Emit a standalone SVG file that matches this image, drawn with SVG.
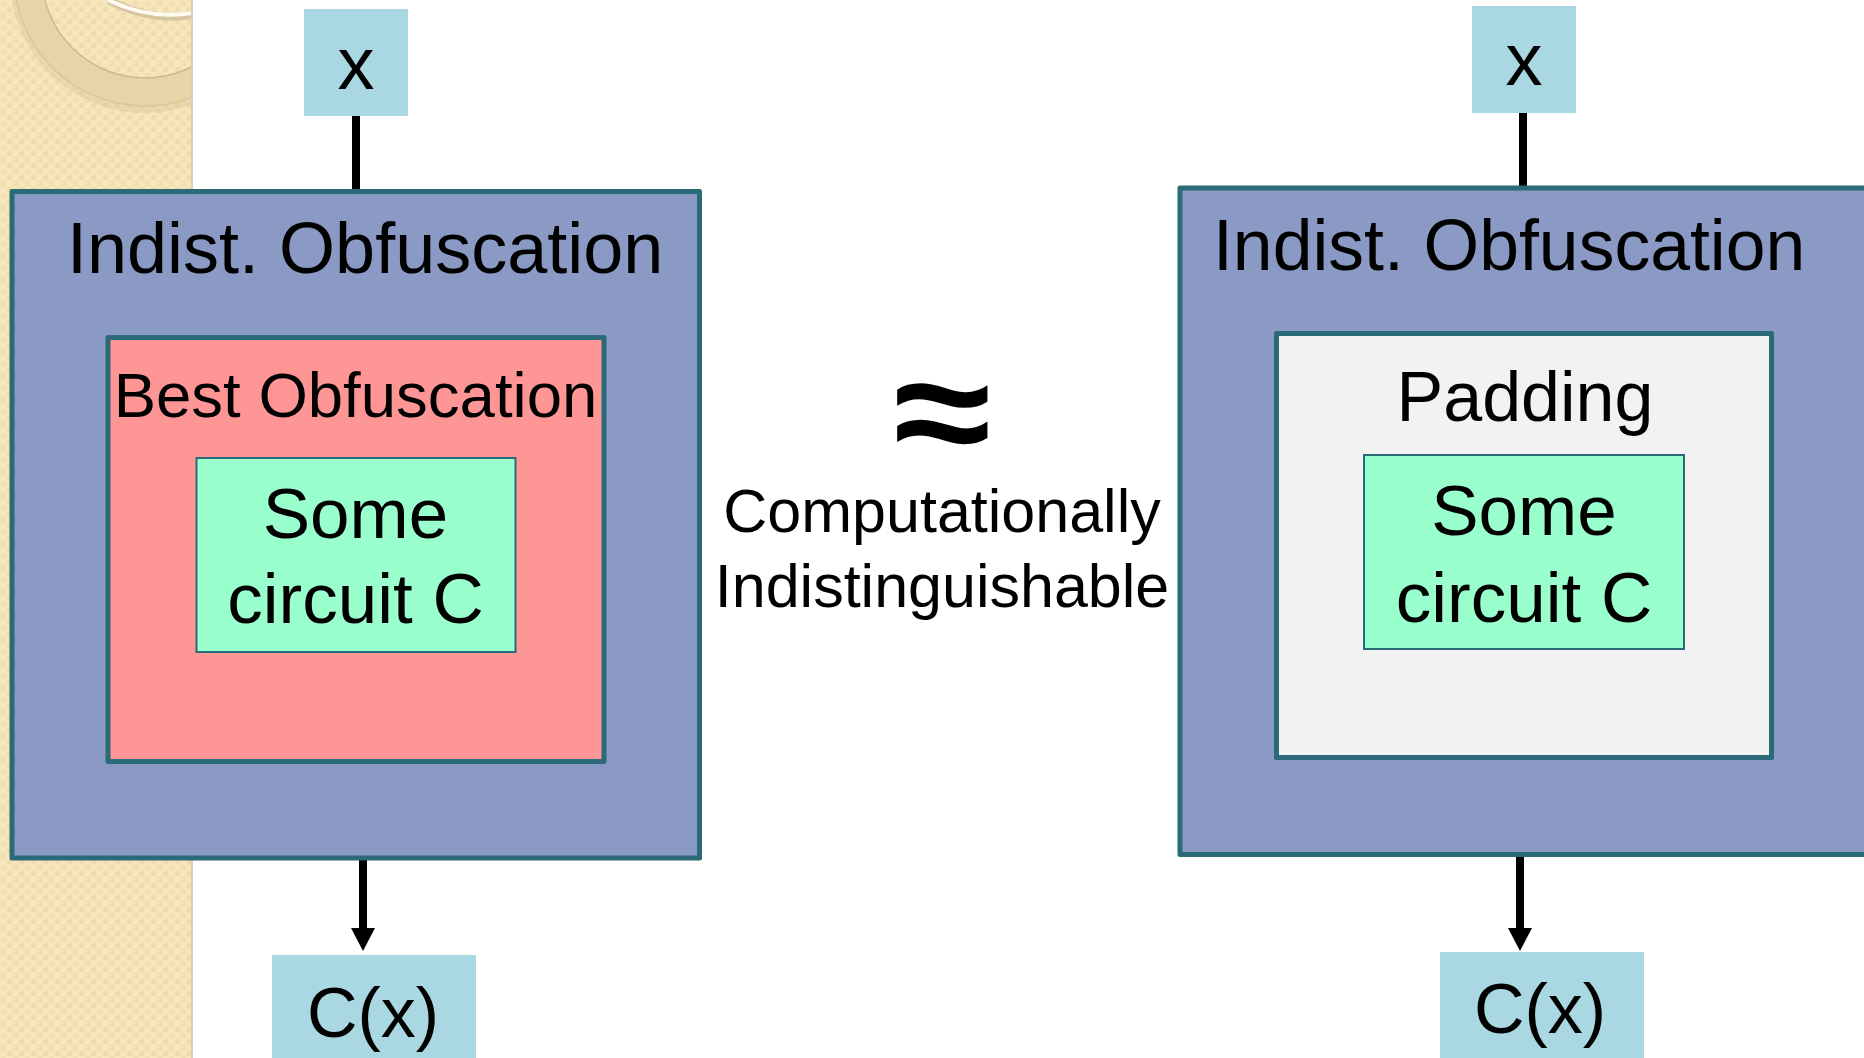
<svg xmlns="http://www.w3.org/2000/svg" width="1864" height="1058" viewBox="0 0 1864 1058">
  <defs>
    <pattern id="chk" x="0" y="0" width="12" height="12" patternUnits="userSpaceOnUse">
      <rect width="12" height="12" fill="#f7e6bc"/>
      <rect x="1" y="1" width="5" height="5" fill="#efdcad"/>
      <rect x="7" y="7" width="5" height="5" fill="#efdcad"/>
      <rect x="2.5" y="2.5" width="2" height="2" fill="#f7e6bc"/>
    </pattern>
    <clipPath id="sideClip"><rect x="0" y="0" width="192" height="1058"/></clipPath>
    <marker id="arr" viewBox="0 0 24 24" markerUnits="userSpaceOnUse" markerWidth="24" markerHeight="24" refX="0" refY="12" orient="auto">
      <path d="M0,0 L23,12 L0,24 z" fill="#000"/>
    </marker>
    <style>
      .t { font-family: "Liberation Sans", Arial, sans-serif; fill: #000; }
      .outer { fill: #8a9ac4; stroke: #2a6a79; stroke-width: 5; stroke-linejoin: round; }
      .mid { stroke: #2a6a79; stroke-width: 5; stroke-linejoin: round; }
      .inner { fill: #99ffcc; stroke: #2a6a79; stroke-width: 2; }
      .io { fill: #a9d8e3; }
      .wire { stroke: #000; stroke-width: 8; fill: none; }
    </style>
  </defs>

  <rect x="0" y="0" width="1864" height="1058" fill="#ffffff"/>

  <!-- decorative side bar -->
  <g id="sidebar">
    <rect x="0" y="0" width="192" height="1058" fill="url(#chk)"/>
    <g clip-path="url(#sideClip)">
      <circle cx="145" cy="-22" r="120" fill="none" stroke="#cdbf98" stroke-width="30" opacity="0.35"/>
      <circle cx="145" cy="-25" r="117" fill="none" stroke="#e6d5a6" stroke-width="28"/>
      <circle cx="145" cy="-25" r="103" fill="none" stroke="#cbbb92" stroke-width="1.5"/>
      <circle cx="145" cy="-25" r="131" fill="none" stroke="#d9c89c" stroke-width="1.5"/>
      <path d="M108 0 Q150 22 192 15" fill="none" stroke="#d6c7a0" stroke-width="8"/>
      <path d="M108 0 Q150 20 192 13" fill="none" stroke="#fffaf0" stroke-width="4"/>
    </g>
    <line x1="192" y1="0" x2="192" y2="1058" stroke="#d9cfb6" stroke-width="2"/>
  </g>

  <!-- connectors -->
  <g id="connectors">
    <line class="wire" x1="356" y1="116" x2="356" y2="190"/>
    <line class="wire" x1="1523" y1="113" x2="1523" y2="186"/>
    <line class="wire" x1="363" y1="860" x2="363" y2="928" marker-end="url(#arr)"/>
    <line class="wire" x1="1520" y1="857" x2="1520" y2="928" marker-end="url(#arr)"/>
  </g>

  <!-- left side -->
  <g id="left-x">
    <rect class="io" x="304" y="9" width="104" height="107"/>
    <text class="t" x="356" y="89" font-size="74" text-anchor="middle">x</text>
  </g>
  <g id="left-io">
    <rect class="outer" x="12" y="191.5" width="687.5" height="666.5"/>
    <text class="t" x="67" y="273" font-size="72">Indist. Obfuscation</text>
  </g>
  <g id="left-best">
    <rect class="mid" x="108" y="337.5" width="496" height="424" fill="#ff9696"/>
    <text class="t" x="355.5" y="417" font-size="63.5" text-anchor="middle">Best Obfuscation</text>
  </g>
  <g id="left-circuit">
    <rect class="inner" x="196.5" y="458" width="319" height="194"/>
    <text class="t" x="355.5" y="538" font-size="71" text-anchor="middle">Some</text>
    <text class="t" x="355.5" y="623" font-size="71" text-anchor="middle">circuit C</text>
  </g>
  <g id="left-cx">
    <rect class="io" x="272" y="955" width="204" height="103"/>
    <text class="t" x="373" y="1037" font-size="70" text-anchor="middle">C(x)</text>
  </g>

  <!-- middle -->
  <g id="middle">
    <text class="t" transform="matrix(1 0 0 0.87 942 465)" x="0" y="0" font-size="178" font-weight="bold" text-anchor="middle">≈</text>
    <text class="t" x="942" y="532" font-size="61" text-anchor="middle">Computationally</text>
    <text class="t" x="942" y="607" font-size="61" text-anchor="middle">Indistinguishable</text>
  </g>

  <!-- right side -->
  <g id="right-x">
    <rect class="io" x="1472" y="6" width="104" height="107"/>
    <text class="t" x="1524" y="85" font-size="74" text-anchor="middle">x</text>
  </g>
  <g id="right-io">
    <rect class="outer" x="1180" y="188" width="700" height="666.5"/>
    <text class="t" x="1213" y="270" font-size="71.5">Indist. Obfuscation</text>
  </g>
  <g id="right-padding">
    <rect class="mid" x="1276.5" y="333.5" width="495" height="424" fill="#f2f2f2"/>
    <text class="t" x="1525" y="421" font-size="70" text-anchor="middle">Padding</text>
  </g>
  <g id="right-circuit">
    <rect class="inner" x="1364" y="455" width="320" height="194"/>
    <text class="t" x="1524" y="535" font-size="71" text-anchor="middle">Some</text>
    <text class="t" x="1524" y="622" font-size="71" text-anchor="middle">circuit C</text>
  </g>
  <g id="right-cx">
    <rect class="io" x="1440" y="952" width="204" height="106"/>
    <text class="t" x="1540" y="1033" font-size="70" text-anchor="middle">C(x)</text>
  </g>
</svg>
